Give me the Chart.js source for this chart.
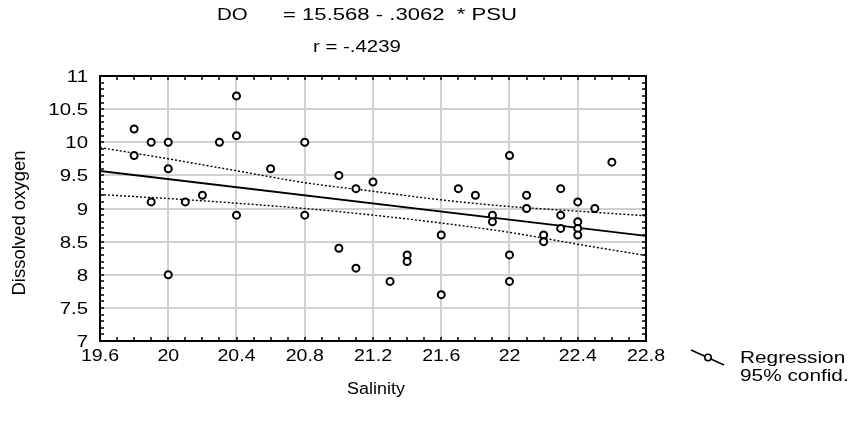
<!DOCTYPE html>
<html>
<head>
<meta charset="utf-8">
<script src="https://cdn.jsdelivr.net/npm/chart.js@4.4.1/dist/chart.umd.min.js"></script>
<style>
html,body{margin:0;padding:0;background:#fff;}
#wrap{width:853px;height:427px;position:relative;}
</style>
</head>
<body>
<div id="wrap"><canvas id="c" width="853" height="427"></canvas></div>
<script>
// ---- data ----
const salinity = [19.8,19.8,19.9,19.9,20.0,20.0,20.0,20.1,20.2,20.3,20.4,20.4,20.4,20.6,20.8,20.8,
  21.0,21.0,21.1,21.1,21.2,21.3,21.4,21.4,21.6,21.6,21.7,21.8,21.9,21.9,22.0,22.0,22.0,22.1,22.1,
  22.2,22.2,22.3,22.3,22.3,22.4,22.4,22.4,22.4,22.5,22.6];
const oxygen = [10.2,9.8,10.0,9.1,10.0,9.6,8.0,9.1,9.2,10.0,10.7,10.1,8.9,9.6,10.0,8.9,
  9.5,8.4,9.3,8.1,9.4,7.9,8.3,8.2,8.6,7.7,9.3,9.2,8.9,8.8,9.8,8.3,7.9,9.2,9.0,
  8.6,8.5,9.3,8.9,8.7,9.1,8.8,8.7,8.6,9.0,9.7];
const regX = [19.6, 22.8];
const regY = [9.566, 8.587];
const bandX = [19.6, 20.0, 20.4, 20.8, 21.2, 21.6, 22.0, 22.4, 22.8];
const bandUpper = [9.92, 9.75, 9.57, 9.39, 9.26, 9.13, 9.03, 8.96, 8.89];
const bandLower = [9.21, 9.15, 9.08, 9.00, 8.90, 8.78, 8.64, 8.46, 8.29];
const xTicks = [19.6, 20, 20.4, 20.8, 21.2, 21.6, 22, 22.4, 22.8];
const xTickLabels = ['19.6','20','20.4','20.8','21.2','21.6','22','22.4','22.8'];
const yTicks = [7, 7.5, 8, 8.5, 9, 9.5, 10, 10.5, 11];
const yTickLabels = ['7','7.5','8','8.5','9','9.5','10','10.5','11'];
const titleLeft = 'DO';
const titleEq = '= 15.568 - .3062  * PSU';
const titleR = 'r = -.4239';
const xTitle = 'Salinity';
const yTitle = 'Dissolved oxygen';
const legendLabels = ['Regression', '95% confid.'];

const FONT = '"Liberation Sans", Arial, Helvetica, sans-serif';

function txt(ctx, s, x, y, size, align, sx, baseline) {
  ctx.save();
  ctx.font = size + 'px ' + FONT;
  ctx.fillStyle = '#000';
  ctx.textAlign = align;
  ctx.textBaseline = baseline || 'alphabetic';
  ctx.translate(x, y);
  ctx.scale(sx, 1);
  ctx.fillText(s, 0, 0);
  ctx.restore();
}

const decor = {
  id: 'decor',
  afterDraw(chart) {
    const ctx = chart.ctx;
    const a = chart.chartArea;
    const xs = chart.scales.x, ys = chart.scales.y;
    ctx.save();
    // minor ticks (inward) every 0.1
    ctx.strokeStyle = '#000';
    ctx.lineWidth = 1.5;
    ctx.beginPath();
    for (let i = 0; i <= 32; i++) {
      const px = Math.round(xs.getPixelForValue(19.6 + i * 0.1));
      ctx.moveTo(px, a.bottom); ctx.lineTo(px, a.bottom - 4);
      ctx.moveTo(px, a.top); ctx.lineTo(px, a.top + 4);
    }
    for (let i = 0; i <= 40; i++) {
      const py = Math.round(ys.getPixelForValue(7 + i * 0.1));
      ctx.moveTo(a.left, py); ctx.lineTo(a.left + 4, py);
      ctx.moveTo(a.right, py); ctx.lineTo(a.right - 4, py);
    }
    ctx.stroke();
    // frame
    ctx.lineWidth = 2;
    ctx.strokeRect(a.left, a.top, a.right - a.left, a.bottom - a.top);
    ctx.restore();

    // tick labels
    yTicks.forEach((v, i) => {
      txt(ctx, yTickLabels[i], 88, ys.getPixelForValue(v) + 6, 17, 'right', 1.2);
    });
    xTicks.forEach((v, i) => {
      txt(ctx, xTickLabels[i], xs.getPixelForValue(v), 361, 17, 'center', 1.15);
    });
    // titles
    txt(ctx, titleLeft, 217, 20, 17, 'left', 1.2);
    txt(ctx, titleEq, 283, 20, 17, 'left', 1.3);
    txt(ctx, titleR, 313, 52, 17, 'left', 1.2);
    txt(ctx, xTitle, 376, 394, 16, 'center', 1.12);
    ctx.save();
    ctx.translate(20, 223);
    ctx.rotate(-Math.PI / 2);
    ctx.font = '18.5px ' + FONT;
    ctx.fillStyle = '#000';
    ctx.textAlign = 'center';
    ctx.textBaseline = 'middle';
    ctx.fillText(yTitle, 0, 0);
    ctx.restore();
    // legend
    ctx.save();
    ctx.strokeStyle = '#000';
    ctx.lineWidth = 1.4;
    ctx.beginPath();
    ctx.moveTo(691, 350); ctx.lineTo(724, 365);
    ctx.stroke();
    ctx.beginPath();
    ctx.arc(708, 357.5, 3.2, 0, Math.PI * 2);
    ctx.fillStyle = '#fff';
    ctx.fill();
    ctx.lineWidth = 1.6;
    ctx.stroke();
    ctx.restore();
    txt(ctx, legendLabels[0], 740, 363, 16, 'left', 1.3);
    txt(ctx, legendLabels[1], 740, 381, 16, 'left', 1.3);
  }
};

const pts = salinity.map((s, i) => ({x: s, y: oxygen[i]}));
const reg = regX.map((x, i) => ({x, y: regY[i]}));
const up = bandX.map((x, i) => ({x, y: bandUpper[i]}));
const lo = bandX.map((x, i) => ({x, y: bandLower[i]}));

new Chart(document.getElementById('c'), {
  type: 'scatter',
  data: {
    datasets: [
      {data: pts, showLine: false, pointRadius: 3.5, pointBorderWidth: 2,
       pointBackgroundColor: '#fff', pointBorderColor: '#000', order: 0},
      {data: reg, showLine: true, borderColor: '#000', borderWidth: 1.8, pointRadius: 0, order: 1},
      {data: up, showLine: true, borderColor: '#000', borderWidth: 1.4, borderDash: [2, 2],
       pointRadius: 0, tension: 0.4, cubicInterpolationMode: 'monotone', order: 2},
      {data: lo, showLine: true, borderColor: '#000', borderWidth: 1.4, borderDash: [2, 2],
       pointRadius: 0, tension: 0.4, cubicInterpolationMode: 'monotone', order: 2}
    ]
  },
  options: {
    responsive: false,
    animation: false,
    events: [],
    layout: {padding: {top: 76, right: 207, left: 0, bottom: 0}},
    plugins: {legend: {display: false}, tooltip: {enabled: false}, title: {display: false}},
    scales: {
      x: {
        type: 'linear', min: 19.6, max: 22.8,
        afterBuildTicks: s => { s.ticks = xTicks.map(v => ({value: v})); },
        afterFit: s => { s.height = 86; },
        ticks: {display: false},
        grid: {color: '#d0d0d0', lineWidth: 2, drawTicks: false},
        border: {display: false}
      },
      y: {
        type: 'linear', min: 7, max: 11,
        afterBuildTicks: s => { s.ticks = yTicks.map(v => ({value: v})); },
        afterFit: s => { s.width = 100; },
        ticks: {display: false},
        grid: {color: '#d0d0d0', lineWidth: 2, drawTicks: false},
        border: {display: false}
      }
    }
  },
  plugins: [decor]
});
</script>
</body>
</html>
